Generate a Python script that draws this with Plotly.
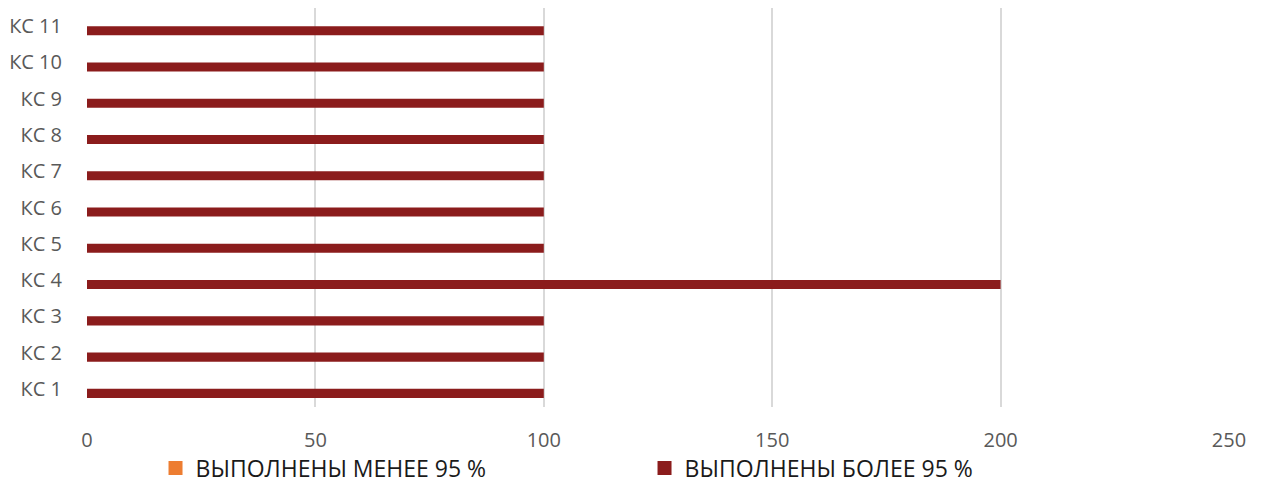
import plotly.graph_objects as go

categories = ["КС 1", "КС 2", "КС 3", "КС 4", "КС 5", "КС 6", "КС 7", "КС 8", "КС 9", "КС 10", "КС 11"]
less_95 = [0, 0, 0, 0, 0, 0, 0, 0, 0, 0, 0]
more_95 = [100, 100, 100, 200, 100, 100, 100, 100, 100, 100, 100]
series_names = ["ВЫПОЛНЕНЫ МЕНЕЕ 95 %", "ВЫПОЛНЕНЫ БОЛЕЕ 95 %"]
colors = ["#ED7D31", "#8B1C1C"]
x_ticks = [0, 50, 100, 150, 200, 250]

FONT = "'Open Sans', 'Noto Sans', sans-serif"

fig = go.Figure()
# bars (red first so it sits in the lower slot of each group, as in the reference)
fig.add_trace(go.Bar(
    y=categories, x=more_95, orientation="h", name=series_names[1],
    marker=dict(color=colors[1], line=dict(width=0)), showlegend=False,
))
fig.add_trace(go.Bar(
    y=categories, x=less_95, orientation="h", name=series_names[0],
    marker=dict(color=colors[0], line=dict(width=0)), showlegend=False,
))
# legend entries with larger square swatches
for name, col in zip(series_names, colors):
    fig.add_trace(go.Scatter(
        x=[None], y=[None], mode="markers", name=name,
        marker=dict(symbol="square", size=14, color=col),
    ))

fig.update_layout(
    width=1265, height=488,
    margin=dict(l=79, r=44, t=0, b=89),
    paper_bgcolor="white", plot_bgcolor="white",
    barmode="group", bargap=0.5, bargroupgap=0,
    font=dict(family=FONT, size=20, color="#595959"),
    legend=dict(
        orientation="h", x=0.060, xanchor="left", y=-0.153, yanchor="middle",
        font=dict(family=FONT, size=23, color="#1a1a1a"),
        entrywidth=444, entrywidthmode="pixels",
        traceorder="normal", bgcolor="rgba(0,0,0,0)",
    ),
    xaxis=dict(
        range=[0, 250], tickvals=x_ticks, showgrid=True, gridcolor="#d9d9d9", gridwidth=2,
        zeroline=False, showline=False, ticks="", ticklabelstandoff=19, automargin=False,
        tickfont=dict(family=FONT, size=20, color="#595959"),
    ),
    yaxis=dict(
        showgrid=False, zeroline=False, showline=False, ticks="", automargin=False,
        ticklabelstandoff=24, categoryorder="array", categoryarray=categories,
        tickfont=dict(family=FONT, size=20, color="#595959"),
    ),
)

fig.write_html("out.html")
